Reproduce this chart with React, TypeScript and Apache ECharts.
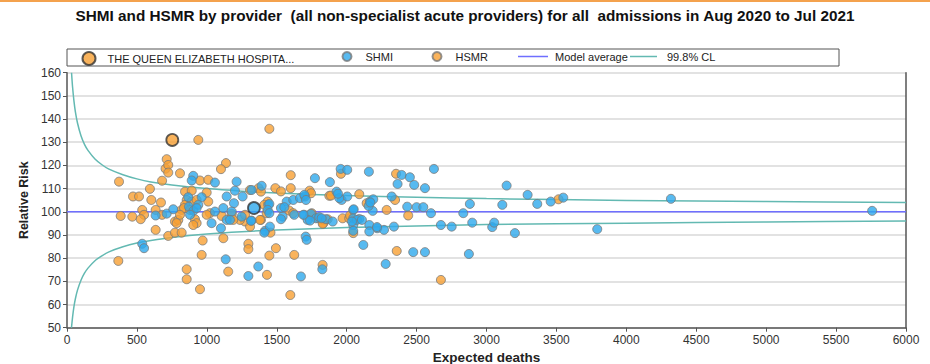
import React, { useEffect, useRef } from "react";
import * as echarts from "echarts";

const TITLE =
  "SHMI and HSMR by provider  (all non-specialist acute providers) for all  admissions in Aug 2020 to Jul 2021";
const QE_NAME = "THE QUEEN ELIZABETH HOSPITA...";

// Highlighted provider: [expected deaths, relative risk]
const qeHsmr: [number, number] = [753, 131.0];
const qeShmi: [number, number] = [1337, 101.6];

// HSMR points [expected deaths, relative risk]
const hsmrPoints: [number, number][] = [
  [372, 113.0], [593, 109.9], [680, 113.4], [472, 106.6], [515, 106.6], [603, 105.1], [672, 104.0],
  [538, 100.8], [634, 100.8], [384, 98.2], [467, 97.9], [551, 98.7], [527, 96.8], [634, 92.2],
  [367, 78.8], [705, 118.6], [939, 131.0], [713, 122.7], [724, 120.2], [724, 116.9], [808, 116.6],
  [1137, 121.0], [1101, 118.4], [951, 113.5], [1010, 113.8], [844, 108.7], [892, 109.1], [999, 108.3],
  [1309, 109.4], [856, 105.1], [892, 104.4], [844, 103.0], [1010, 104.4], [680, 98.7], [820, 100.8],
  [772, 95.8], [796, 96.5], [915, 96.8], [927, 95.1], [903, 94.3], [1022, 99.4], [1106, 98.2],
  [1178, 99.1], [1273, 95.8], [1309, 93.6], [1237, 96.5], [724, 89.6], [772, 91.0], [820, 91.0],
  [970, 87.6], [1118, 88.6], [963, 81.4], [1297, 86.2], [1297, 83.9], [1153, 74.2], [856, 75.2],
  [856, 70.9], [951, 66.6], [1370, 110.2], [1490, 110.2], [1530, 108.8], [1600, 110.2], [1447, 135.8],
  [1600, 115.8], [1959, 116.4], [1735, 109.1], [1745, 108.0], [1876, 106.9], [1387, 108.7],
  [1435, 104.4], [1411, 103.0], [1590, 100.5], [1387, 96.5], [1455, 91.0], [1828, 96.5], [1864, 96.8],
  [1971, 97.2], [1494, 84.3], [1447, 81.1], [1625, 81.4], [1828, 77.1], [1430, 72.8], [1597, 64.1],
  [1738, 98.7], [1797, 97.2], [1833, 95.1], [1618, 99.4], [1428, 99.4], [2018, 97.2], [1273, 98.7],
  [1189, 96.5], [1380, 96.5], [837, 101.6], [880, 100.8], [808, 98.7], [927, 105.1], [784, 95.1],
  [999, 98.7], [2353, 116.4], [1888, 107.0], [2090, 107.6], [2346, 105.1], [2143, 103.7], [2286, 100.8],
  [1750, 99.4], [2024, 98.4], [2440, 98.4], [1829, 94.8], [2047, 90.8], [2358, 83.1], [2674, 70.6],
  [3515, 105.4],
];

// SHMI points [expected deaths, relative risk]
const shmiPoints: [number, number][] = [
  [634, 98.4], [538, 86.2], [551, 84.3], [713, 99.2], [760, 101.1], [872, 102.2], [905, 100.5],
  [903, 115.5], [892, 113.5], [1058, 112.6], [1213, 113.0], [1201, 109.1], [867, 106.3], [963, 106.3],
  [939, 103.0], [1142, 106.6], [1256, 106.6], [1320, 109.4], [880, 98.7], [927, 101.6], [1058, 100.1],
  [1118, 101.6], [1194, 103.7], [1178, 100.1], [1142, 96.5], [1249, 97.9], [1320, 96.2], [1034, 95.1],
  [1101, 92.9], [1135, 79.5], [1297, 72.3], [1368, 76.4], [1166, 96.5], [1316, 96.1], [1392, 111.2],
  [1439, 103.0], [1571, 104.4], [1618, 105.1], [1666, 105.9], [1702, 106.6], [1773, 114.5],
  [1880, 112.8], [1957, 118.5], [2004, 118.1], [1928, 108.7], [1964, 105.1], [2004, 106.6],
  [2047, 100.8], [2047, 97.2], [2047, 94.3], [2047, 91.8], [1416, 91.8], [1451, 93.6], [1673, 72.1],
  [1707, 89.3], [1714, 87.9], [1826, 75.2], [1447, 103.4], [1435, 100.8], [1447, 99.4], [1530, 101.6],
  [1542, 97.9], [1530, 96.8], [1625, 98.7], [1697, 98.7], [1745, 99.1], [1780, 97.2], [1804, 97.7],
  [1852, 96.8], [1900, 95.8], [1721, 96.5], [1554, 102.0], [1697, 107.3], [1709, 105.1], [1947, 105.9],
  [1411, 91.0], [2159, 117.3], [2624, 118.5], [2393, 115.9], [2452, 114.9], [2364, 112.0],
  [2483, 111.6], [2560, 110.2], [1938, 107.8], [2166, 104.4], [2190, 105.4], [2322, 106.6],
  [2433, 102.2], [2500, 102.0], [2548, 102.0], [2881, 103.4], [3144, 111.3], [3113, 103.0],
  [3294, 107.3], [3363, 103.4], [3459, 104.4], [3549, 106.1], [2050, 101.1], [2186, 100.4],
  [1690, 98.7], [1821, 97.2], [1738, 96.2], [2090, 96.9], [2162, 94.3], [2162, 91.5], [2219, 92.9],
  [2267, 92.2], [2338, 93.6], [2603, 99.4], [2674, 94.3], [2751, 93.6], [2834, 99.4], [2898, 95.3],
  [3041, 93.4], [3055, 95.3], [3203, 90.8], [3792, 92.5], [2119, 85.7], [2476, 82.6], [2560, 82.6],
  [2874, 81.8], [2279, 77.5], [2157, 102.5], [2169, 104.0], [2073, 96.5], [2038, 95.8], [2109, 96.5],
  [2217, 93.4], [4319, 105.6], [5758, 100.4],
];

// Model average
const modelAverage: [number, number][] = [[0, 100], [6000, 100]];

// 99.8% control limits
const clUpperExpected = [32.5, 40, 50, 60, 75, 100, 125, 150, 200, 250, 300, 400, 500, 600, 750, 1000, 1250, 1500, 2000, 2500, 3000, 4000, 5000, 6000];
const clUpperRisk = [160.0, 153.7, 147.6, 143.1, 138.3, 132.8, 129.1, 126.5, 122.8, 120.3, 118.4, 116.0, 114.2, 112.9, 111.6, 110.0, 108.9, 108.1, 107.0, 106.3, 105.7, 104.9, 104.4, 104.0];
const clLowerExpected = [32, 35, 40, 50, 60, 75, 100, 125, 150, 200, 250, 300, 400, 500, 600, 750, 1000, 1250, 1500, 2000, 2500, 3000, 4000, 5000, 6000];
const clLowerRisk = [50.0, 51.8, 54.7, 59.2, 62.5, 66.2, 70.5, 73.5, 75.7, 78.9, 81.0, 82.7, 84.9, 86.5, 87.6, 88.9, 90.4, 91.4, 92.1, 93.2, 93.9, 94.5, 95.1, 95.6, 96.0];

const FONT = "'Liberation Sans', Arial, sans-serif";
const BLUE = "#2ea9ec";
const ORANGE = "#f7a033";
const AVG = "#6f6fff";
const CL = "#63b9b2";

export default function App() {
  const ref = useRef<HTMLDivElement>(null);
  useEffect(() => {
    document.body.style.margin = "0";
    const chart = echarts.init(ref.current!, null, { renderer: "svg" });
    const pointStyle = (c: string) => ({ color: c, borderColor: "#7a7a7a", borderWidth: 1 });
    const legendText = (pad: number) => ({
      fontFamily: FONT,
      fontSize: 11,
      color: "#222",
      padding: [0, 0, 0, pad],
    });
    chart.setOption({
      animation: false,
      backgroundColor: "#fff",
      title: {
        text: TITLE,
        left: "center",
        top: 3,
        textStyle: { fontFamily: FONT, fontSize: 15.3, fontWeight: "bold", color: "#111" },
      },
      graphic: [
        { type: "line", shape: { x1: 0, y1: 1, x2: 930, y2: 1 }, style: { stroke: "#f4a24e", lineWidth: 2 }, silent: true },
        { type: "rect", shape: { x: 67, y: 49, width: 772, height: 17 }, style: { stroke: "#555", lineWidth: 1, fill: "#fff" }, z: -1, silent: true },
      ],
      legend: [
        { data: [QE_NAME], left: 81.5, top: 51, padding: 0, itemWidth: 13, itemHeight: 13, selectedMode: false, textStyle: legendText(7) },
        { data: ["SHMI"], left: 341.5, top: 51, padding: 0, itemWidth: 9, itemHeight: 13, selectedMode: false, textStyle: legendText(9) },
        { data: ["HSMR"], left: 431.5, top: 51, padding: 0, itemWidth: 9, itemHeight: 13, selectedMode: false, textStyle: legendText(9) },
        { data: [{ name: "Model average", icon: "rect" }], left: 518, top: 51, padding: 0, itemWidth: 30, itemHeight: 1.5, selectedMode: false, textStyle: legendText(2) },
        { data: [{ name: "99.8% CL", icon: "rect" }], left: 630, top: 51, padding: 0, itemWidth: 27, itemHeight: 1.5, selectedMode: false, textStyle: legendText(5) },
      ],
      grid: { left: 67, right: 24, top: 72.7, bottom: 36.3, outerBoundsMode: "none", containLabel: false },
      xAxis: {
        type: "value",
        min: 0,
        max: 6000,
        interval: 500,
        name: "Expected deaths",
        nameLocation: "middle",
        nameGap: 20,
        nameTextStyle: { fontFamily: FONT, fontSize: 13.5, fontWeight: "bold", color: "#222" },
        axisLine: { show: true, lineStyle: { color: "#555", width: 1.5 } },
        axisTick: { show: true, length: 4, lineStyle: { color: "#555" } },
        axisLabel: { fontFamily: FONT, fontSize: 12, color: "#333", margin: 6, formatter: (v: number) => String(v) },
        splitLine: { show: false },
      },
      yAxis: [
        {
          type: "value",
          min: 50,
          max: 160,
          interval: 10,
          name: "Relative Risk",
          nameLocation: "middle",
          nameGap: 27,
          nameTextStyle: { fontFamily: FONT, fontSize: 12.5, fontWeight: "bold", color: "#222" },
          axisLine: { show: true, lineStyle: { color: "#555", width: 1.5 } },
          axisTick: { show: true, length: 4, lineStyle: { color: "#555" } },
          axisLabel: { fontFamily: FONT, fontSize: 12, color: "#333", margin: 6 },
          splitLine: { show: true, lineStyle: { color: "#d8d8d8", width: 1.5 } },
        },
        {
          type: "value",
          min: 50,
          max: 160,
          interval: 10,
          position: "right",
          axisLine: { show: true, lineStyle: { color: "#555", width: 1.5 } },
          axisTick: { show: false },
          axisLabel: { show: false },
          splitLine: { show: false },
        },
      ],
      series: [
        {
          name: "Model average",
          type: "line",
          data: modelAverage,
          symbol: "none",
          lineStyle: { color: AVG, width: 1.5 },
          itemStyle: { color: AVG },
          z: 1,
        },
        {
          name: "99.8% CL",
          type: "line",
          data: clUpperExpected.map((e, i) => [e, clUpperRisk[i]]),
          symbol: "none",
          smooth: 0.3,
          lineStyle: { color: CL, width: 1.5 },
          itemStyle: { color: CL },
          z: 1,
        },
        {
          name: "99.8% CL",
          type: "line",
          data: clLowerExpected.map((e, i) => [e, clLowerRisk[i]]),
          symbol: "none",
          smooth: 0.3,
          lineStyle: { color: CL, width: 1.5 },
          itemStyle: { color: CL },
          z: 1,
        },
        {
          name: "HSMR",
          type: "scatter",
          data: hsmrPoints,
          symbolSize: 9,
          itemStyle: pointStyle(ORANGE),
          z: 2,
        },
        {
          name: "SHMI",
          type: "scatter",
          data: shmiPoints,
          symbolSize: 9,
          itemStyle: pointStyle(BLUE),
          z: 3,
        },
        {
          name: QE_NAME,
          type: "scatter",
          data: [
            { value: qeHsmr, itemStyle: { color: ORANGE } },
            { value: qeShmi, itemStyle: { color: BLUE } },
          ],
          symbolSize: 12,
          itemStyle: { color: ORANGE, borderColor: "#333", borderWidth: 1.8 },
          z: 4,
        },
      ],
    });
    return () => chart.dispose();
  }, []);
  return <div ref={ref} style={{ width: 930, height: 364 }} />;
}
